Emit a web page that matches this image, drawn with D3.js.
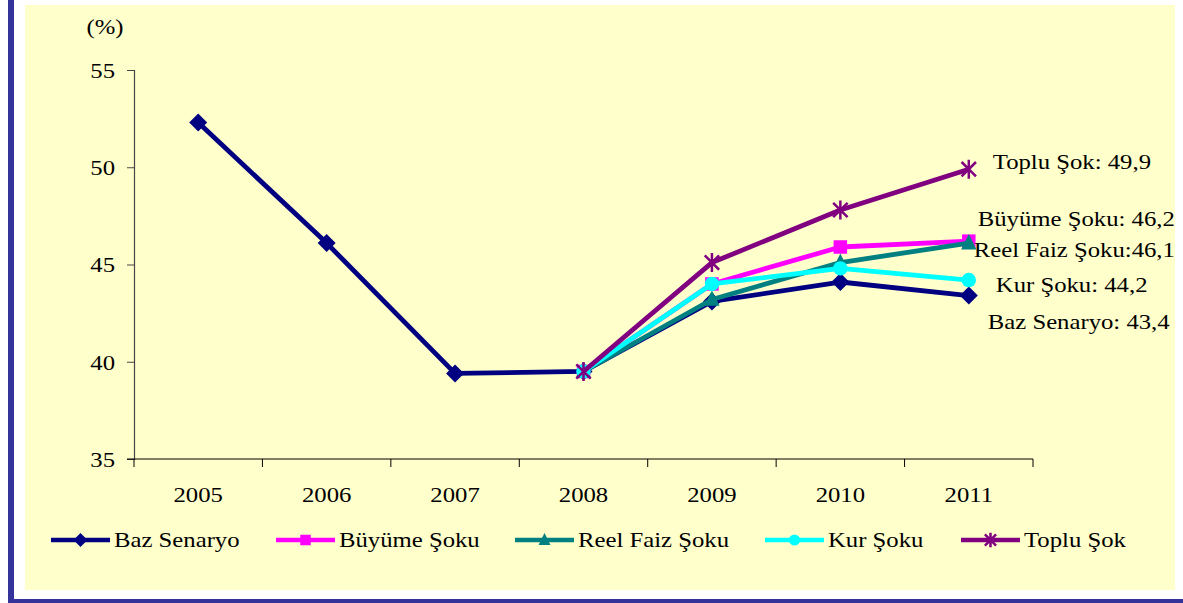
<!DOCTYPE html>
<html>
<head>
<meta charset="utf-8">
<script src="https://cdn.jsdelivr.net/npm/d3@7"></script>
<style>
  body { margin: 0; background: #fff; }
</style>
</head>
<body>
<div id="plot"></div>
<script>
// chart data
const years = ["2005", "2006", "2007", "2008", "2009", "2010", "2011"];
const seriesNames = ["Baz Senaryo", "Büyüme Şoku", "Reel Faiz Şoku", "Kur Şoku", "Toplu Şok"];
const baz = [52.3, 46.1, 39.4, 39.5, 43.1, 44.1, 43.4];
const buyume = [null, null, null, 39.5, 44.0, 45.9, 46.2];
const reelFaiz = [null, null, null, 39.5, 43.2, 45.1, 46.1];
const kur = [null, null, null, 39.5, 44.0, 44.8, 44.2];
const toplu = [null, null, null, 39.5, 45.1, 47.8, 49.9];
const endLabels = ["Baz Senaryo: 43,4", "Büyüme Şoku: 46,2", "Reel Faiz Şoku:46,1", "Kur Şoku: 44,2", "Toplu Şok: 49,9"];
const yTicks = [35, 40, 45, 50, 55];

const w = 1183;
const h = 603;
const margin = {top: 70, right: 150, bottom: 144, left: 134};
const font = "'Liberation Serif', 'DejaVu Serif', serif";
const sx = 1.15; // the original picture is stretched sideways

const colors = ["#000080", "#ff00ff", "#008080", "#00ffff", "#800080"];
const markers = ["diamond", "square", "triangle", "circle", "star"];
// label placement relative to last point: [dx, dy]
const labelOffset = [[19, 26], [9, -22], [5, 7], [27, 5], [24, -8]];

const allValues = [baz, buyume, reelFaiz, kur, toplu];
const series = seriesNames.map((name, i) => ({
  name: name,
  color: colors[i],
  marker: markers[i],
  label: endLabels[i],
  offset: labelOffset[i],
  values: years.map((y, j) => ({year: y, value: allValues[i][j]})).filter(d => d.value !== null)
}));

const svg = d3.select("div#plot")
  .append("svg")
  .attr("width", w)
  .attr("height", h);

// frame
svg.append("rect").attr("x", 25).attr("y", 5).attr("width", 1150).attr("height", 585).attr("fill", "#ffffcc");
svg.append("rect").attr("x", 8).attr("y", 0).attr("width", 6).attr("height", h).attr("fill", "#333399");
svg.append("rect").attr("x", 8).attr("y", 599).attr("width", w - 8).attr("height", 4).attr("fill", "#333399");

const xScale = d3.scaleBand()
  .domain(years)
  .range([margin.left, 1033]);

const yScale = d3.scaleLinear()
  .domain([35, 55])
  .range([459, margin.top]);

const cx = d => xScale(d) + xScale.bandwidth() / 2;

function txt(sel) {
  return sel.style("font-family", font).style("font-size", "21.5px").attr("fill", "#000");
}
function place(sel, x, y) {
  return txt(sel).attr("transform", `translate(${x},${y}) scale(${sx},1)`);
}

// axes
const yAxis = d3.axisLeft(yScale).tickValues(yTicks).tickSize(7).tickPadding(9.5);
const gy = svg.append("g").attr("transform", `translate(${margin.left},0)`).call(yAxis);
gy.select(".domain").attr("stroke", "#444").attr("stroke-width", 1.2);
gy.selectAll(".tick line").attr("stroke", "#444");
txt(gy.selectAll("text")).attr("dy", "0.34em").attr("transform", `scale(${sx},1)`);

place(svg.append("text").attr("text-anchor", "middle"), 105, 34).text("(%)");

const gx = svg.append("g").attr("transform", `translate(0,${yScale(35)})`);
gx.append("line")
  .attr("x1", margin.left - 7).attr("x2", 1033)
  .attr("stroke", "#000").attr("stroke-width", 1.2);
gx.selectAll(".tk")
  .data(years.concat(["end"]))
  .enter().append("line")
  .attr("x1", (d, i) => i < years.length ? xScale(d) : xScale.range()[1])
  .attr("x2", (d, i) => i < years.length ? xScale(d) : xScale.range()[1])
  .attr("y1", 0).attr("y2", 8)
  .attr("stroke", "#000");
gx.selectAll(".lbl")
  .data(years)
  .enter().append("text")
  .attr("text-anchor", "middle")
  .each(function (d) { place(d3.select(this), cx(d), 43); })
  .text(d => d);

// markers
function drawMarker(g, type, color, s) {
  if (type === "diamond") {
    g.append("path").attr("d", `M0,${-s}L${s},0L0,${s}L${-s},0Z`).attr("fill", color);
  } else if (type === "square") {
    g.append("rect").attr("x", -s * 0.75).attr("y", -s * 0.75).attr("width", s * 1.5).attr("height", s * 1.5).attr("fill", color);
  } else if (type === "triangle") {
    g.append("path").attr("d", `M0,${-s}L${s * 0.85},${s * 0.7}L${-s * 0.85},${s * 0.7}Z`).attr("fill", color);
  } else if (type === "circle") {
    g.append("circle").attr("r", s * 0.8).attr("fill", color);
  } else if (type === "star") {
    const a = s * 0.8;
    g.append("path")
      .attr("d", `M${-a},${-a}L${a},${a}M${-a},${a}L${a},${-a}M0,${-s * 1.05}L0,${s * 1.05}`)
      .attr("stroke", color).attr("stroke-width", 2.5).attr("fill", "none");
  }
}

const line = d3.line()
  .x(d => cx(d.year))
  .y(d => yScale(d.value));

series.forEach(s => {
  const g = svg.append("g");
  g.append("path")
    .datum(s.values)
    .attr("d", line)
    .attr("fill", "none")
    .attr("stroke", s.color)
    .attr("stroke-width", 4.8)
    .attr("stroke-linejoin", "round");
  g.selectAll(".pt")
    .data(s.values)
    .enter().append("g")
    .attr("transform", d => `translate(${cx(d.year)},${yScale(d.value)})`)
    .each(function () { drawMarker(d3.select(this), s.marker, s.color, 9); });
});

// end labels
series.forEach(s => {
  const last = s.values[s.values.length - 1];
  place(svg.append("text").attr("dy", "0.34em"),
    cx(last.year) + s.offset[0], yScale(last.value) + s.offset[1])
    .text(s.label);
});

// legend
const legendX = [51, 276, 515, 765, 961];
const legend = svg.append("g").attr("transform", "translate(0,540)");
series.forEach((s, i) => {
  const g = legend.append("g").attr("transform", `translate(${legendX[i]},0)`);
  g.append("line").attr("x1", 0).attr("x2", 59).attr("stroke", s.color).attr("stroke-width", 4.5);
  const m = g.append("g").attr("transform", "translate(29.5,0)");
  drawMarker(m, s.marker, s.color, 7);
  place(g.append("text").attr("dy", "0.34em"), 63, 0).text(s.name);
});
</script>
</body>
</html>
